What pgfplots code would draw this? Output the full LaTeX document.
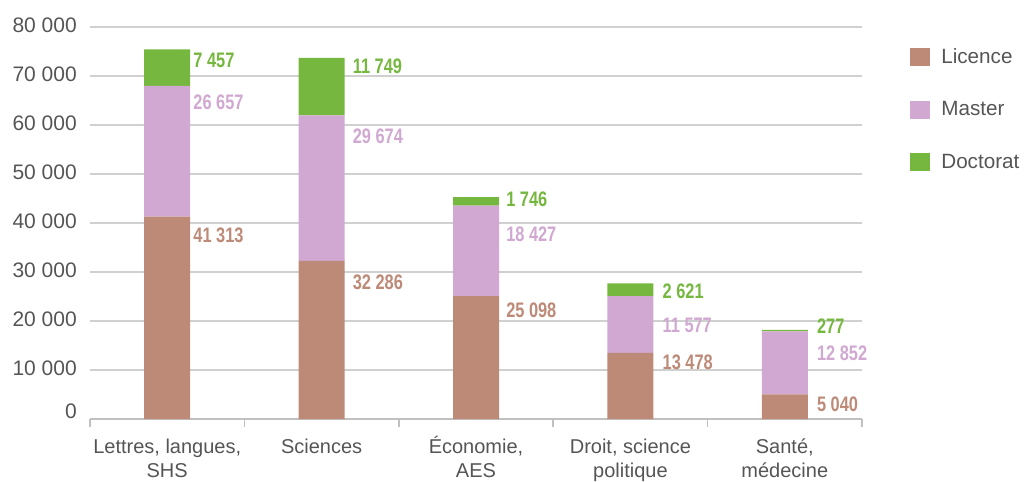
\documentclass[border=0pt]{standalone}
\usepackage{pgfplots}
\pgfplotsset{compat=1.18}
\usepackage{pgfplotstable}
\usepackage{fontspec}
\setmainfont{Liberation Sans}
\newfontfamily\lblfont[FakeStretch=0.78]{Liberation Sans}
\definecolor{licc}{RGB}{189,138,120}
\definecolor{masc}{RGB}{208,168,209}
\definecolor{docc}{RGB}{118,183,63}
\definecolor{txtc}{RGB}{85,85,85}
\definecolor{gridc}{RGB}{208,208,208}
\definecolor{axc}{RGB}{192,192,192}

% dy: label offset (px, positive = down) from the middle of the segment
\pgfplotstableread{
x y dy dx
0 41313 -82.3 3
1 32286 -57.4 8
2 25098 -47.0 7
3 13478 -23.5 9
4 5040 -2.2 9
}\licence
\pgfplotstableread{
x y dy dx
0 26657 -48.8 3
1 29674 -51.6 8
2 18427 -16.4 7
3 11577 0.9 9
4 12852 -9.3 9
}\master
\pgfplotstableread{
x y dy dx
0 7457 -7.2 3
1 11749 -20.1 8
2 1746 -1.9 7
3 2621 1.7 9
4 277 -4.2 9
}\doctorat

\begin{document}
\begin{tikzpicture}
\useasboundingbox (0,0) rectangle (768.75pt,361.5pt);
\begin{axis}[
  at={(67.5pt,47.25pt)}, anchor=south west,
  scale only axis, width=579pt, height=294pt,
  xmin=-0.5, xmax=4.5, ymin=0, ymax=80000,
  ybar stacked, bar width=34.5pt,
  scaled y ticks=false,
  /pgf/number format/assume math mode=true,
  /pgf/number format/1000 sep={\ },
  axis x line*=bottom, axis y line*=left,
  y axis line style={draw=none},
  x axis line style={draw=axc, line width=1.1pt},
  ytick={10000,20000,...,80000},
  extra y ticks={0},
  extra y tick style={yticklabel style={yshift=4.5pt}, grid=none},
  ymajorgrids, grid style={draw=gridc, line width=1.1pt},
  tick align=outside,
  major tick length=0pt, minor tick length=6pt,
  minor tick style={draw=axc, line width=1.1pt},
  xtick={0,...,4},
  minor xtick={-0.5,0.5,...,4.5},
  xticklabels={{\vphantom{L}Lettres, langues,\\SHS},{\vphantom{L}Sciences},{\vphantom{L}\smash{É}conomie,\\AES},{\vphantom{L}Droit, science\\politique},{\vphantom{L}Santé,\\médecine}},
  x tick label style={align=center, anchor=north, inner sep=0pt, yshift=-15pt, font=\fontsize{15}{18}\selectfont, text=txtc},
  y tick label style={anchor=east, inner sep=0pt, xshift=-9.75pt, yshift=1.1pt, font=\fontsize{15.75}{18}\selectfont, text=txtc},
  point meta=explicit,
  nodes near coords={\pgfmathprintnumber{\pgfplotspointmeta}},
  visualization depends on={\thisrow{dy} \as \labdy},
  visualization depends on={\thisrow{dx} \as \labdx},
  legend style={at={(1.06218,0.94643)}, anchor=north west, draw=none, fill=none,
    inner sep=0pt, outer sep=0pt, row sep=26pt,
    nodes={inner sep=0pt, text=txtc},
    font=\fontsize{15.5}{18}\selectfont},
  legend cell align=left,
  legend image code/.code={\fill[#1,draw=none] (0pt,-6.75pt) rectangle (15pt,6.75pt); \path (23.5pt,0pt);},
]
\addplot[fill=licc, draw=none,
  nodes near coords style={anchor=west, inner sep=0pt, text=licc, font=\lblfont\bfseries\fontsize{15.75}{18}\selectfont, xshift={17.25pt+\labdx*0.75pt}, yshift={-\labdy*0.75pt}}]
  table[x=x,y=y,meta=y] {\licence};
\addlegendentry{Licence}
\addplot[fill=masc, draw=none,
  nodes near coords style={anchor=west, inner sep=0pt, text=masc, font=\lblfont\bfseries\fontsize{15.75}{18}\selectfont, xshift={17.25pt+\labdx*0.75pt}, yshift={-\labdy*0.75pt}}]
  table[x=x,y=y,meta=y] {\master};
\addlegendentry{Master}
\addplot[fill=docc, draw=none,
  nodes near coords style={anchor=west, inner sep=0pt, text=docc, font=\lblfont\bfseries\fontsize{15.75}{18}\selectfont, xshift={17.25pt+\labdx*0.75pt}, yshift={-\labdy*0.75pt}}]
  table[x=x,y=y,meta=y] {\doctorat};
\addlegendentry{Doctorat}
\end{axis}
\end{tikzpicture}
\end{document}
